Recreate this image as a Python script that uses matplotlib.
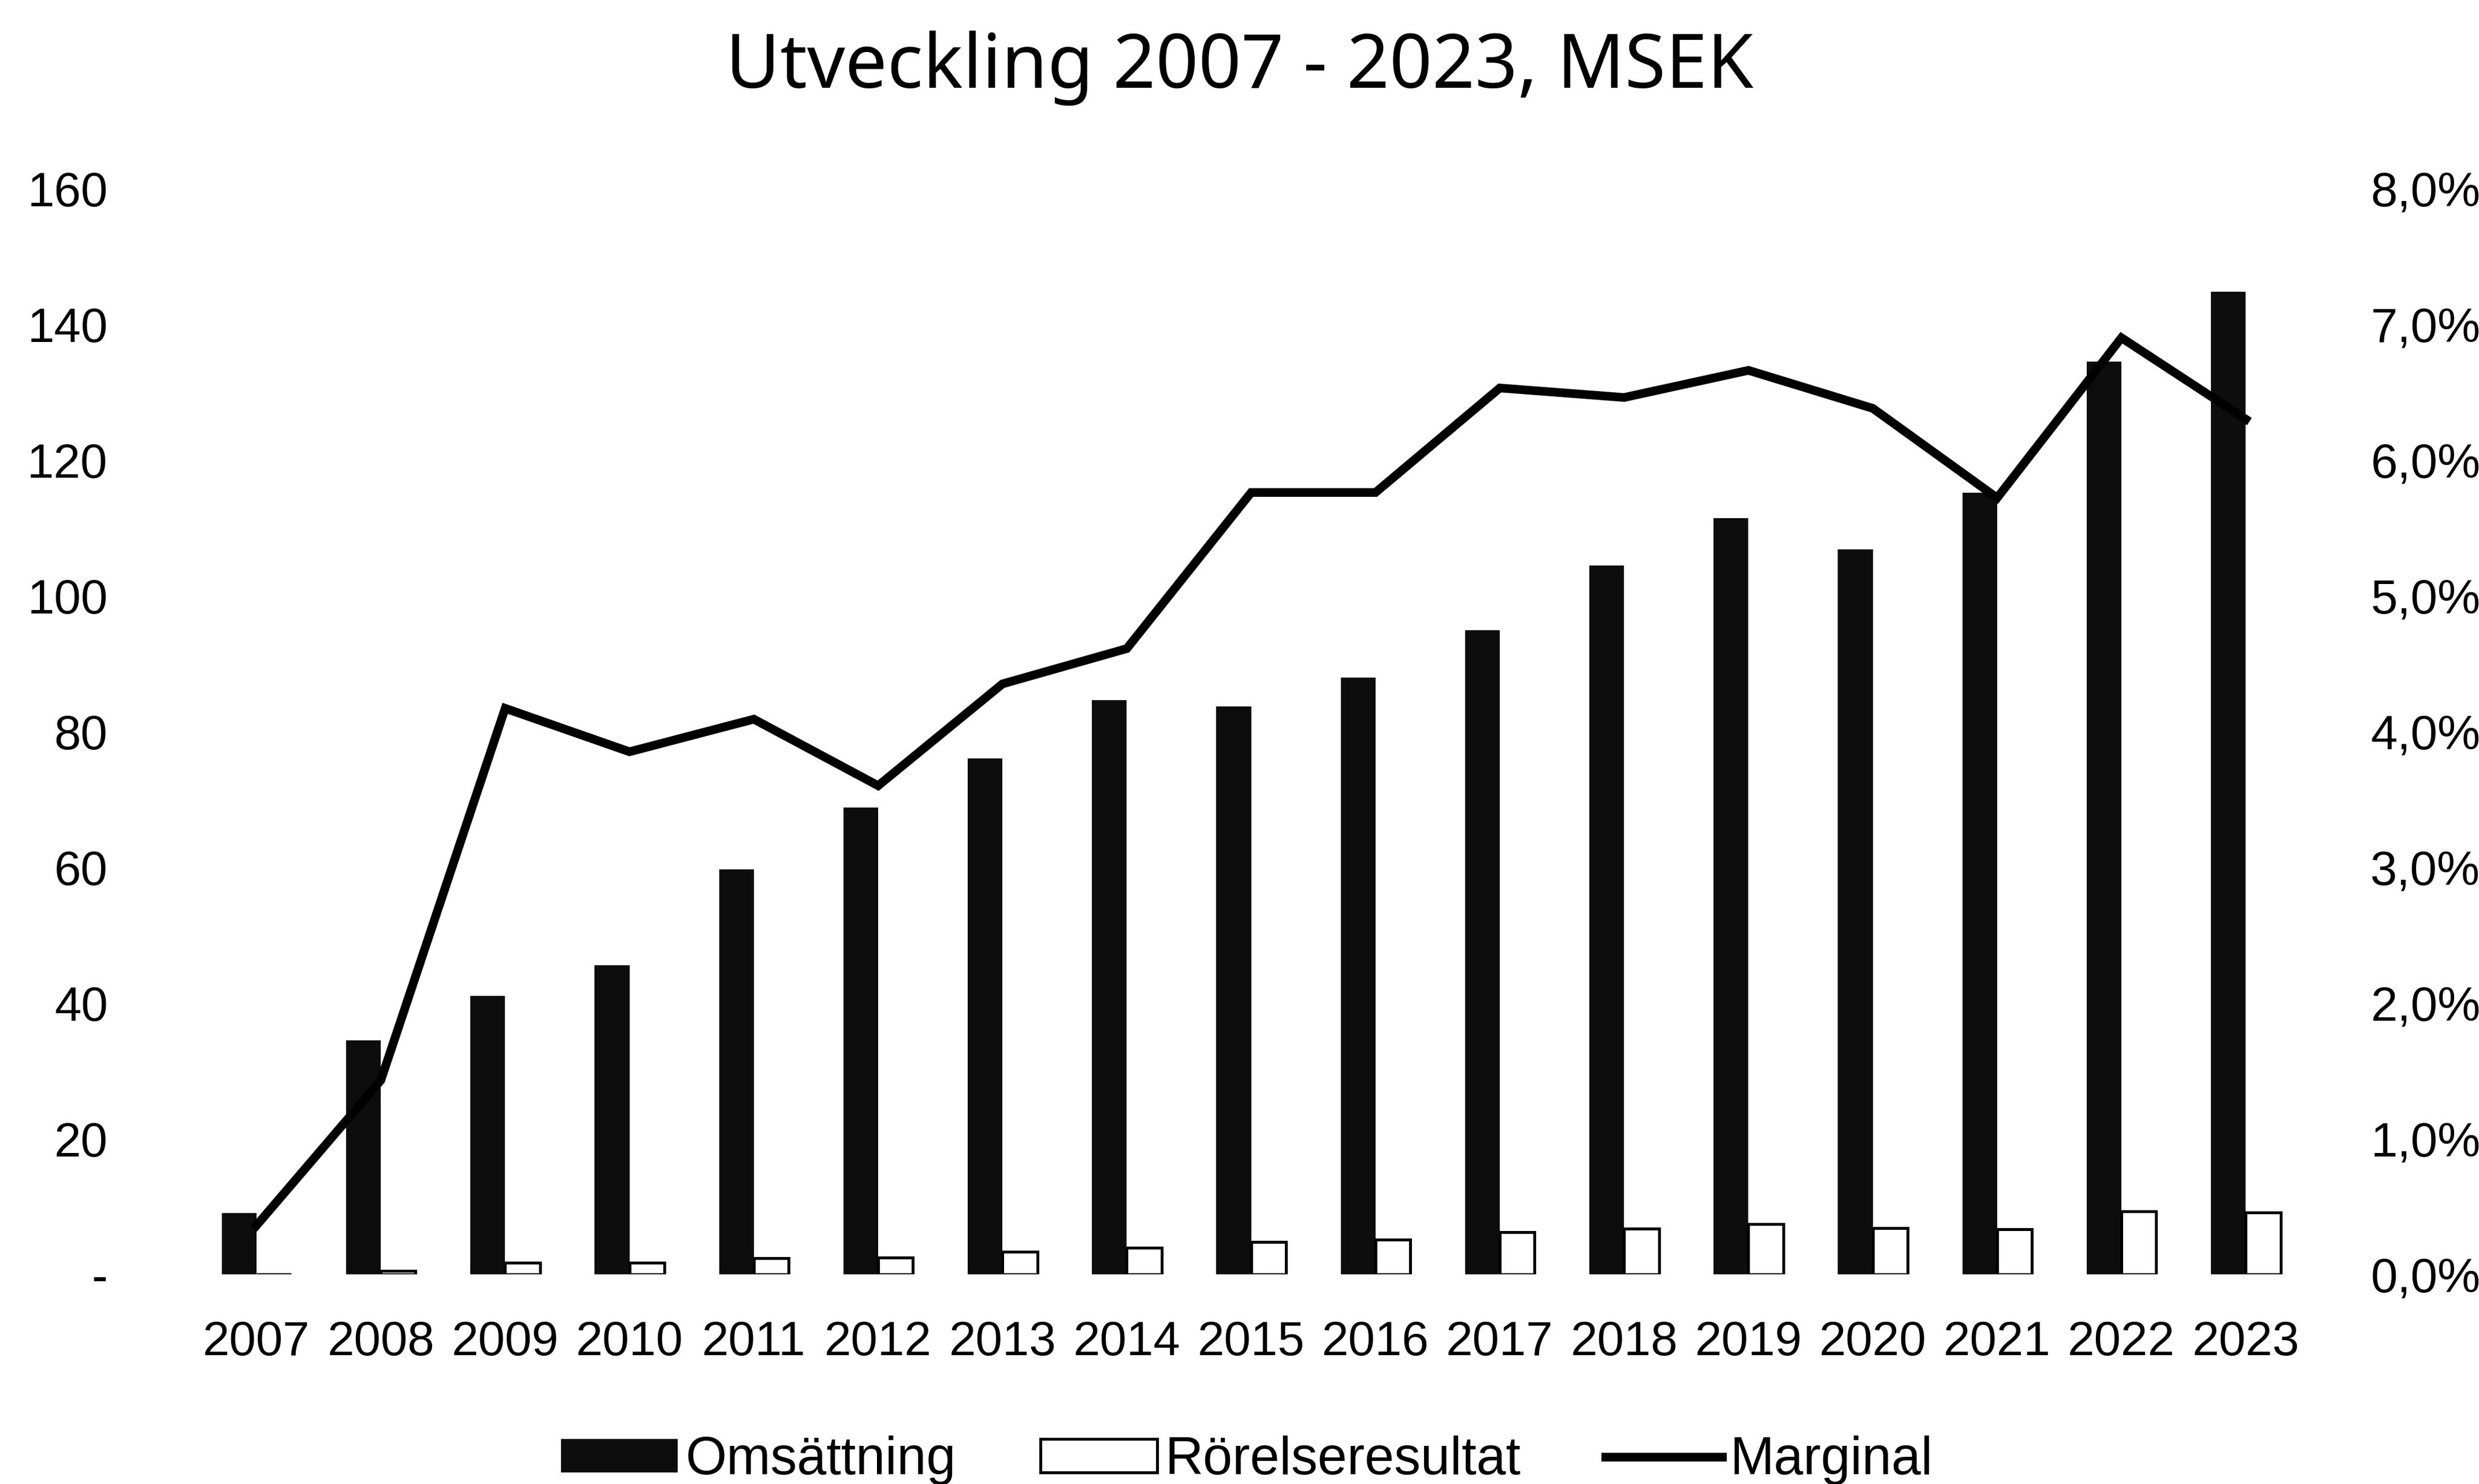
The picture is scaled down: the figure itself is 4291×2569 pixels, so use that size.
import numpy as np
import matplotlib
matplotlib.use("Agg")
import matplotlib.pyplot as plt
from matplotlib.ticker import FuncFormatter

# Data (MSEK and margin)
years = [str(y) for y in range(2007, 2024)]
omsattning = [9.0, 34.5, 41.0, 45.5, 59.7, 68.8, 76.0, 84.6, 83.7, 87.9,
              94.9, 104.4, 111.4, 106.8, 115.2, 134.5, 144.8]
rorelseresultat = [0.03, 0.5, 1.7, 1.7, 2.4, 2.5, 3.3, 3.9, 4.8, 5.1,
                   6.2, 6.7, 7.4, 6.8, 6.6, 9.3, 9.1]
marginal = [0.0036, 0.0143, 0.0417, 0.0385, 0.0409, 0.0360, 0.0435, 0.0461,
            0.0576, 0.0576, 0.0653, 0.0646, 0.0666, 0.0638, 0.0572, 0.0690, 0.0630]

left_ticks = [0, 20, 40, 60, 80, 100, 120, 140, 160]
right_ticks = [0.0, 0.01, 0.02, 0.03, 0.04, 0.05, 0.06, 0.07, 0.08]

plt.rcParams['font.family'] = ['Liberation Sans', 'DejaVu Sans']

fig = plt.figure(figsize=(4291 / 300, 2569 / 300), dpi=300)
ax = fig.add_axes([0.0784, 0.1413, 0.8526, 0.7317])
ax2 = ax.twinx()

x = np.arange(len(years))
w = 0.28

# Staplar: omsättning till vänster, rörelseresultat till höger om kategorimitten
ax.bar(x - w / 2, omsattning, width=w, color='#0d0d0d', label='Omsättning', zorder=2)
ax.bar(x + w / 2, rorelseresultat, width=w, color='white', edgecolor='black',
       linewidth=1.2, label='Rörelseresultat', zorder=2)

ax2.plot(x, marginal, color='black', linewidth=3.6, label='Marginal',
         solid_joinstyle='miter')

ax.set_xlim(-0.5, len(years) - 0.5)
ax.set_ylim(0, 160)
ax2.set_ylim(0, 0.08)

ax.set_xticks(x)
ax.set_xticklabels(years)
ax.set_yticks(left_ticks)
ax.yaxis.set_major_formatter(FuncFormatter(lambda v, p: '-' if v == 0 else f'{v:.0f}'))
ax2.set_yticks(right_ticks)
ax2.yaxis.set_major_formatter(FuncFormatter(lambda v, p: f'{v * 100:.1f}%'.replace('.', ',')))

ax.tick_params(axis='x', length=0, pad=19, labelsize=20)
ax.tick_params(axis='y', length=0, pad=36, labelsize=20)
ax2.tick_params(axis='y', length=0, pad=26, labelsize=20)

for a in (ax, ax2):
    for s in a.spines.values():
        s.set_visible(False)

fig.text(0.5, 0.954, 'Utveckling 2007 - 2023, MSEK', ha='center', va='center',
         fontsize=31, family=['Noto Sans', 'DejaVu Sans'])

h1, l1 = ax.get_legend_handles_labels()
h2, l2 = ax2.get_legend_handles_labels()
fig.legend(h1 + h2, l1 + l2, loc='lower center', bbox_to_anchor=(0.503, -0.033),
           ncol=3, frameon=False, fontsize=22, handlelength=2.2, handleheight=0.6,
           handletextpad=0.15, columnspacing=1.6)

fig.savefig('out.png', dpi=300)
